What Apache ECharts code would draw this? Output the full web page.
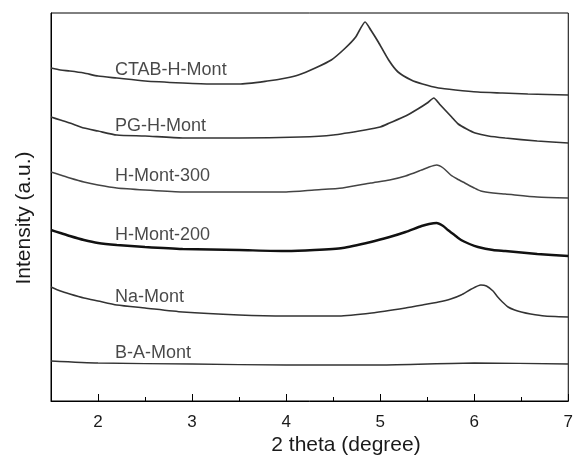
<!DOCTYPE html>
<html><head><meta charset="utf-8">
<script src="https://cdn.jsdelivr.net/npm/echarts@6/dist/echarts.min.js"></script>
<style>html,body{margin:0;padding:0;background:#fff}#c{width:576px;height:455px}</style>
</head><body><div id="c"></div>
<script>
// 2 theta positions and intensities (a.u., stacked offsets)
const ctabX = [1.5,1.6,1.7,1.85,2.0,2.2,2.5,2.9,3.2,3.5,3.8,4.0,4.13,4.31,4.48,4.63,4.74,4.84,4.9,4.98,5.09,5.19,5.33,5.45,5.62,5.8,6.04,6.3,6.57,7];
const ctabY = [333,331,330,328,325,323,320,318,317,317,320,323,326,333,341,353,364,379,371,359,341,329,321,317,313,311,309,308,307,306];
const pgX = [1.5,1.6,1.7,1.85,2.0,2.2,2.5,2.9,3.5,4.15,4.5,4.84,5.0,5.1,5.27,5.4,5.5,5.57,5.63,5.69,5.76,5.83,5.92,6.01,6.15,6.33,6.67,7];
const pgY = [284,281,278,273,270,266,265,263,263,264,266,271,274,278,285,292,298,303,297,291,284,277,272,268,265,263,260,258];
const h300X = [1.5,1.6,1.7,1.85,2.0,2.2,2.5,2.9,3.5,4.0,4.3,4.6,4.9,5.1,5.27,5.44,5.52,5.6,5.67,5.75,5.82,5.9,6.0,6.07,6.2,6.33,6.67,7];
const h300Y = [229,226,223,219,216,213,211,209,209,209,211,213,218,221,225,231,234,236,233,226,222,218,213,210,208,207,204,203];
const h200X = [1.5,1.6,1.7,1.85,2.0,2.2,2.5,2.9,3.5,4.0,4.3,4.6,4.9,5.1,5.27,5.44,5.52,5.6,5.67,5.72,5.79,5.86,5.95,6.04,6.2,6.33,6.67,7];
const h200Y = [171,168,165,161,158,156,154,152,151,150,151,153,159,164,169,175,177,178,175,171,166,161,157,154,151,150,147,145];
const naX = [1.5,1.6,1.7,1.85,2.0,2.2,2.5,2.9,3.5,4.0,4.56,4.91,5.27,5.45,5.62,5.75,5.86,5.97,6.07,6.13,6.2,6.25,6.3,6.36,6.43,6.5,6.6,6.75,7];
const naY = [114,110,107,103,100,96,93,89,86,85,85,88,93,96,99,102,106,112,116,115,110,104,99,94,91,89,87,85,84];
const baX = [1.5,2,3,4,5,6,7];
const baY = [40,38,37,36,36,38,37];

const seriesNames = ['CTAB-H-Mont','PG-H-Mont','H-Mont-300','H-Mont-200','Na-Mont','B-A-Mont'];
const labelX = [2.18,2.18,2.18,2.18,2.18,2.18];
const labelY = [331,275,225,166,104,48];
const xTickLabels = [2,3,4,5,6,7];
const xMinorTicks = [2.5,3.5,4.5,5.5,6.5];

const xs = [ctabX,pgX,h300X,h200X,naX,baX];
const ys = [ctabY,pgY,h300Y,h200Y,naY,baY];
const widths = [1.7,1.7,1.5,2.4,1.5,1.3];
const colors = ['#333','#333','#444','#111','#333','#333'];

const chart = echarts.init(document.getElementById('c'), null, {renderer:'canvas'});
const lineSeries = xs.map((xArr,i)=>({
  type:'line', name:seriesNames[i], xAxisIndex:0, yAxisIndex:0,
  data:xArr.map((x,j)=>[x, ys[i][j]]),
  showSymbol:false, smooth:0.2,
  lineStyle:{color:colors[i], width:widths[i]}, silent:true
}));
lineSeries.push({
  type:'scatter', symbolSize:0, xAxisIndex:0, yAxisIndex:0, silent:true,
  data:seriesNames.map((n,i)=>[labelX[i], labelY[i], n]),
  label:{show:true, position:'right', distance:0, formatter:p=>p.data[2],
    fontFamily:'Liberation Sans, Arial, sans-serif', fontSize:18, color:'#1a1a1a'}
});
chart.setOption({
  animation:false,
  backgroundColor:'#fff',
  grid:{left:51, right:5, top:13, bottom:54, show:true, borderColor:'#000', borderWidth:1, backgroundColor:'transparent'},
  xAxis:[{
    type:'value', min:1.5, max:7,
    axisLine:{show:true, lineStyle:{color:'#000', width:1}},
    axisTick:{show:true, inside:true, length:7, customValues:xTickLabels, lineStyle:{color:'#000'}},
    axisLabel:{show:true, customValues:xTickLabels, margin:13, fontSize:17, color:'#1a1a1a', fontFamily:'Liberation Sans, Arial, sans-serif'},
    splitLine:{show:false}
  },{
    type:'value', min:1.5, max:7, position:'bottom',
    axisLine:{show:false},
    axisTick:{show:true, inside:true, length:4, customValues:xMinorTicks, lineStyle:{color:'#000'}},
    axisLabel:{show:false},
    splitLine:{show:false}
  }],
  yAxis:{type:'value', min:0, max:388,
    axisLine:{show:true, lineStyle:{color:'#000'}},
    axisTick:{show:false}, axisLabel:{show:false}, splitLine:{show:false}},
  graphic:[
    {type:'text', x:346, y:445, style:{text:'2 theta (degree)', fontSize:21, fill:'#1a1a1a', align:'center', verticalAlign:'middle', fontFamily:'Liberation Sans, Arial, sans-serif'}},
    {type:'text', x:24, y:218, rotation:Math.PI/2, style:{text:'Intensity (a.u.)', fontSize:21, fill:'#1a1a1a', align:'center', verticalAlign:'middle', fontFamily:'Liberation Sans, Arial, sans-serif'}}
  ],
  series:lineSeries
});
</script></body></html>
